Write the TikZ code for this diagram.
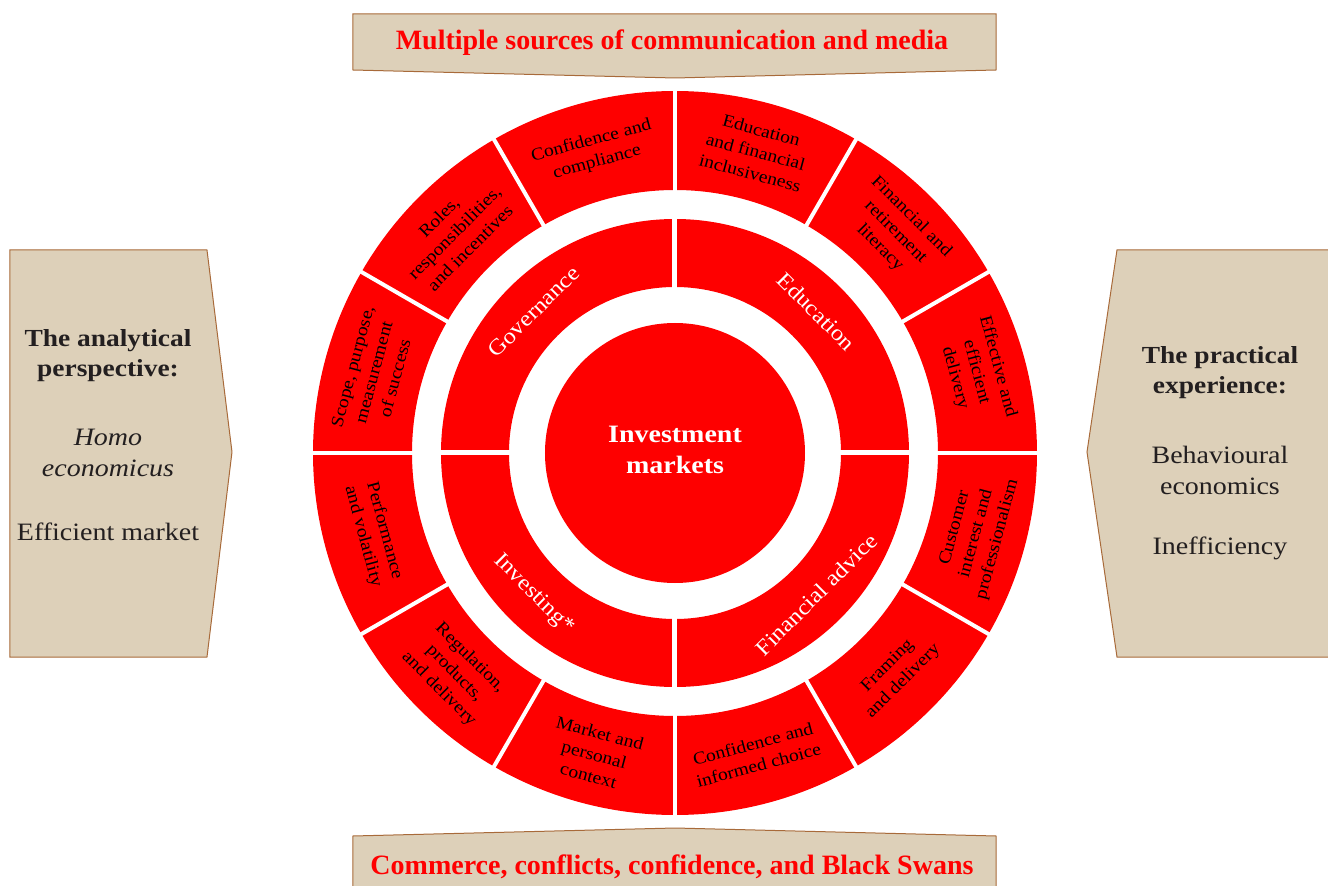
\documentclass[tikz,border=0pt]{standalone}
\usepackage{fontspec}
\setmainfont[FakeStretch=1.12]{Liberation Serif}
\newfontfamily\bannerfont{Liberation Serif}
\usetikzlibrary{calc}
\definecolor{segred}{HTML}{FE0000}
\definecolor{boxfill}{HTML}{DDD0B9}
\definecolor{boxline}{HTML}{A86A3A}
\definecolor{boxtext}{HTML}{231F20}
\tikzset{
  seg/.style={fill=segred},
  gap/.style={white, line width=4},
  segtext/.style={align=center, font=\fontsize{17.5}{22}\selectfont, text=black, inner sep=0},
  ringtext/.style={text=white, font=\fontsize{22}{24}\selectfont, inner sep=0},
  box/.style={fill=boxfill},
  boxedge/.style={draw=boxline, line width=1},
  banner/.style={text=red, font=\bannerfont\bfseries\fontsize{28}{30}\selectfont},
  sidehead/.style={text=boxtext, align=center, font=\bfseries\fontsize{24.5}{30}\selectfont},
  sidetext/.style={text=boxtext, align=center, font=\fontsize{25}{31}\selectfont},
}

\begin{document}
\begin{tikzpicture}[x=1pt,y=1pt]
\useasboundingbox (-675,-433) rectangle (653,453);

% banners top and bottom
\filldraw[box, boxedge] (-322,439) -- (321,439) -- (321,383) -- (0,375) -- (-322,383) -- cycle;
\node[banner] (media) at (-3,410) {Multiple sources of communication and media};
\fill[box] (-322,-440) -- (-322,-383) -- (0,-375) -- (321,-383) -- (321,-440) -- cycle;
\draw[boxedge] (-322,-440) -- (-322,-383) -- (0,-375) -- (321,-383) -- (321,-440);
\node[banner] (swans) at (-3,-414) {Commerce, conflicts, confidence, and Black Swans};

% side boxes
\filldraw[box, boxedge] (-665,203) -- (-468,203) -- (-443,1) -- (-468,-204) -- (-665,-204) -- cycle;
\node[sidehead] (lefthead) at (-567,97) {The analytical\\perspective:};
\node[sidetext, font=\itshape\fontsize{25}{31}\selectfont] (lefthomo) at (-567,0) {Homo\\economicus};
\node[sidetext] (lefteff) at (-567,-79) {Efficient market};

\fill[box] (660,203) -- (442,203) -- (412,1) -- (442,-204) -- (660,-204) -- cycle;
\draw[boxedge] (660,203) -- (442,203) -- (412,1) -- (442,-204) -- (660,-204);
\node[sidehead] (righthead) at (545,80) {The practical\\experience:};
\node[sidetext] (rightbeh) at (545,-17) {Behavioural\\economics};
\node[sidetext] (rightineff) at (545,-95) {Inefficiency};

% outer ring
\foreach \a/\txt [count=\i] in {
  0/{Effective and\\efficient\\delivery},
  30/{Financial and\\retirement\\literacy},
  60/{Education\\and financial\\inclusiveness},
  90/{Confidence and\\compliance},
  120/{Roles,\\responsibilities,\\and incentives},
  150/{Scope, purpose,\\measurement\\of success},
  180/{Performance\\and volatility},
  210/{Regulation,\\products,\\and delivery},
  240/{Market and\\personal\\context},
  270/{Confidence and\\informed choice},
  300/{Framing\\and delivery},
  330/{Customer\\interest and\\professionalism}}{
  \pgfmathsetmacro{\segang}{\a+15}
  \pgfmathsetmacro{\segrot}{\segang<180 ? \segang-90 : \segang-270}
  \fill[seg] (\a:263) arc (\a:\a+30:263) -- (\a+30:362) arc (\a+30:\a:362) -- cycle;
  \node[segtext, rotate=\segrot] (out\i) at (\segang:312) {\txt};
}
\foreach \a in {0,30,...,330}
  \draw[gap] (\a:255) -- (\a:370);

% middle ring
\foreach \a/\txt/\r [count=\i] in {0/Education/-45, 90/Governance/45,
  180/Investing*/-45, 270/Financial advice/45}{
  \fill[seg] (\a:166) arc (\a:\a+90:166) -- (\a+90:234) arc (\a+90:\a:234) -- cycle;
  \node[ringtext, rotate=\r] (mid\i) at (\a+45:200) {\txt};
}
\foreach \a in {0,90,180,270}
  \draw[gap, line width=5] (\a:160) -- (\a:240);

% centre
\fill[seg] (0,0) circle (130);
\node[text=white, align=center, font=\bfseries\fontsize{25}{31}\selectfont] (mkt) at (0,3) {Investment\\markets};
\end{tikzpicture}
\end{document}
